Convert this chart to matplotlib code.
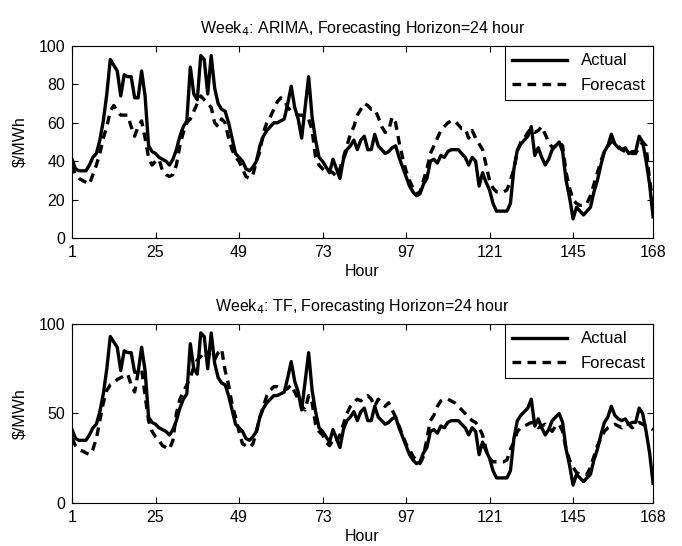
import matplotlib

matplotlib.use("Agg")
import matplotlib.pyplot as plt
import numpy as np

hours = np.arange(1, 169)

actual = [
    41, 36, 35, 35, 35, 38, 42, 44, 51, 61, 75, 93, 90, 87, 74, 85, 84, 84, 73, 73,
    87, 74, 48, 45, 44, 42, 41, 40, 38, 41, 46, 53, 58, 61, 89, 75, 72, 95, 93, 75,
    95, 78, 70, 67, 66, 60, 52, 44, 42, 40, 36, 35, 37, 40, 48, 53, 56, 58, 60, 60,
    61, 62, 70, 79, 68, 62, 52, 68, 84, 63, 51, 42, 40, 37, 34, 41, 36, 31, 41, 46,
    48, 51, 46, 51, 53, 46, 46, 54, 48, 46, 44, 45, 47, 48, 42, 37, 32, 27, 24, 22,
    23, 28, 31, 40, 41, 39, 43, 42, 45, 46, 46, 46, 44, 42, 38, 42, 40, 27, 34, 29,
    25, 18, 14, 14, 14, 14, 18, 36, 46, 49, 51, 53, 58, 43, 47, 42, 38, 41, 46, 48,
    50, 45, 30, 21, 10, 16, 14, 12, 14, 16, 24, 30, 38, 45, 48, 54, 49, 47, 46, 47,
    44, 45, 45, 53, 50, 40, 28, 11,
]

arima_forecast = [
    38, 33, 31, 30, 29, 28, 33, 38, 44, 52, 58, 66, 69, 66, 64, 64, 64, 58, 53, 58,
    61, 52, 42, 38, 40, 41, 35, 33, 32, 33, 38, 48, 55, 60, 62, 66, 70, 74, 72, 70,
    68, 60, 58, 62, 60, 52, 46, 42, 40, 36, 32, 31, 33, 40, 45, 55, 60, 63, 67, 71,
    73, 72, 68, 66, 65, 64, 64, 63, 62, 56, 42, 38, 36, 34, 35, 34, 32, 36, 42, 48,
    54, 58, 64, 67, 70, 69, 67, 67, 63, 58, 55, 56, 63, 60, 50, 42, 35, 30, 26, 23,
    24, 30, 36, 44, 48, 52, 56, 58, 60, 61, 61, 59, 57, 57, 52, 56, 52, 49, 46, 38,
    30, 26, 24, 24, 24, 25, 30, 36, 45, 50, 52, 55, 57, 55, 56, 58, 54, 50, 47, 48,
    50, 48, 34, 26, 20, 18, 17, 17, 18, 22, 28, 34, 40, 45, 48, 50, 50, 48, 46, 45,
    45, 44, 44, 47, 50, 48, 30, 18,
]

tf_forecast = [
    36, 32, 30, 29, 28, 27, 30, 36, 46, 56, 63, 66, 67, 69, 70, 71, 72, 66, 62, 73,
    75, 60, 46, 40, 37, 35, 32, 31, 30, 35, 50, 58, 62, 66, 70, 76, 80, 82, 80, 84,
    82, 80, 84, 86, 74, 66, 55, 48, 40, 33, 32, 31, 33, 40, 48, 54, 60, 63, 65, 65,
    64, 63, 64, 66, 62, 58, 54, 52, 60, 56, 44, 40, 38, 34, 32, 35, 34, 38, 44, 50,
    54, 56, 58, 57, 59, 60, 58, 54, 58, 56, 54, 56, 52, 48, 43, 38, 33, 30, 26, 24,
    22, 26, 36, 46, 49, 54, 57, 58, 58, 57, 56, 54, 52, 50, 48, 46, 45, 42, 38, 30,
    25, 23, 23, 23, 23, 24, 30, 34, 40, 42, 43, 44, 45, 44, 42, 43, 44, 42, 40, 43,
    44, 40, 30, 24, 20, 17, 16, 16, 16, 20, 26, 32, 36, 40, 42, 43, 44, 43, 42, 44,
    44, 42, 44, 45, 44, 43, 42, 41,
]

xticks = [1, 25, 49, 73, 97, 121, 145, 168]

plt.rcParams.update(
    {
        "font.family": "Liberation Sans",
        "font.size": 11.5,
        "xtick.direction": "in",
        "ytick.direction": "in",
        "xtick.top": True,
        "ytick.right": True,
        "axes.linewidth": 0.8,
    }
)

fig = plt.figure(figsize=(6.82, 5.46), dpi=100)
ax_top = fig.add_axes([0.1056, 0.5641, 0.852, 0.3517])
ax_bot = fig.add_axes([0.1056, 0.0788, 0.852, 0.3278])

panels = [
    (ax_top, arima_forecast, "Week$_4$: ARIMA, Forecasting Horizon=24 hour", [0, 20, 40, 60, 80, 100]),
    (ax_bot, tf_forecast, "Week$_4$: TF, Forecasting Horizon=24 hour", [0, 50, 100]),
]

for ax, forecast, title, yticks in panels:
    ax.plot(hours, actual, color="black", linewidth=2.4, label="Actual")
    ax.plot(hours, forecast, color="black", linewidth=2.4, linestyle=(0, (2.6, 1.9)), label="Forecast")
    ax.set_xlim(1, 168)
    ax.set_ylim(0, 100)
    ax.set_xticks(xticks)
    ax.set_yticks(yticks)
    ax.tick_params(length=4, width=0.8, pad=5)
    ax.set_xlabel("Hour", labelpad=3)
    ax.set_ylabel("\\$/MWh", labelpad=8)
    ax.set_title(title, fontsize=11.5, pad=9)
    leg = ax.legend(
        loc="upper right",
        borderaxespad=0,
        fancybox=False,
        edgecolor="black",
        framealpha=1,
        handlelength=3.3,
        labelspacing=0.55,
        borderpad=0.45,
        fontsize=12,
    )
    leg.get_frame().set_linewidth(0.8)

fig.savefig("out.png", dpi=100)
